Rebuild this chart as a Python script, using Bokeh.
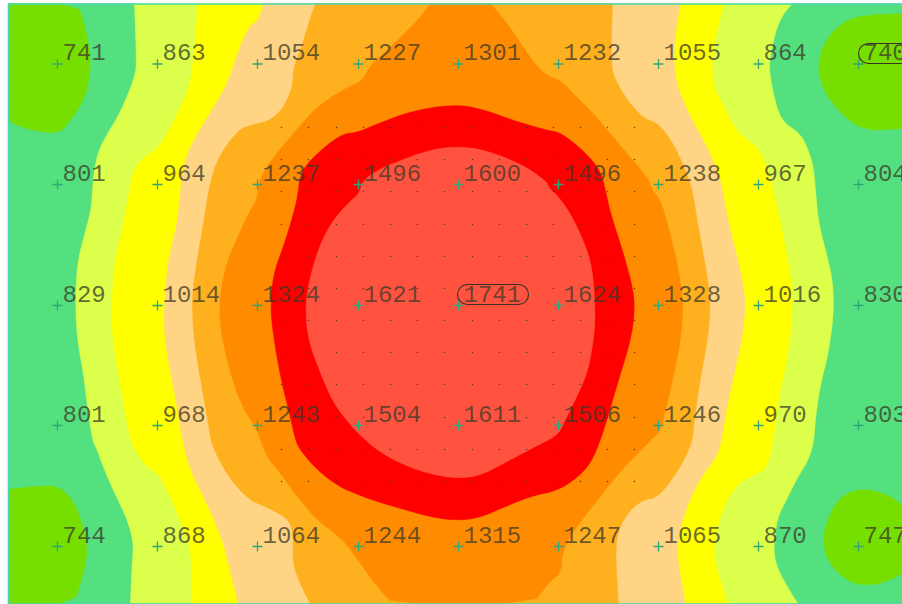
from bokeh.plotting import figure
from bokeh.models import Range1d
from bokeh.core.properties import value
from bokeh.embed import file_html
from bokeh.resources import INLINE

# measuring points of the grid
grid_x = [57, 157, 257, 358, 458, 558, 658, 758, 858]
grid_y = [63.5, 184, 305, 425, 546]
illuminance = [
    [741, 863, 1054, 1227, 1301, 1232, 1055, 864, 740],
    [801, 964, 1237, 1496, 1600, 1496, 1238, 967, 804],
    [829, 1014, 1324, 1621, 1741, 1624, 1328, 1016, 830],
    [801, 968, 1243, 1504, 1611, 1506, 1246, 970, 803],
    [744, 868, 1064, 1244, 1315, 1247, 1065, 870, 747],
]
peak_boxes_left = [457, 858]
peak_boxes_right = [528, 929]
peak_boxes_top = [284, 43]
peak_boxes_bottom = [304, 63]

# fine calculation raster
raster_x = [281, 308, 336, 363, 390, 417, 444, 472, 499, 526, 553, 580, 607, 634]
raster_y = [127, 159, 191, 224, 256, 288, 320, 352, 384, 417, 449, 481]

# iso-illuminance outlines
lime_left = [(134,3),(135,30),(136,60),(135,73),(128,93),(117,117),(107,133),(98,150),(93,173),(91,207),(87,223),(78,257),(76,277),(75,307),(77,340),(83,373),(87,407),(92,440),(97,450),(103,467),(113,490),(125,515),(131,533),(133,547),(131,573),(130,604)]
lime_right = [(792,3),(783,13),(775,30),(769,60),(769,70),(772,90),(780,120),(800,133),(808,150),(813,167),(815,190),(818,223),(827,257),(832,280),(833,303),(832,323),(827,357),(820,383),(815,417),(813,444),(807,461),(797,477),(785,501),(777,517),(773,544),(775,564),(787,587),(798,604)]
yellow_left = [(197,3),(195,40),(193,57),(190,83),(180,107),(167,133),(157,148),(143,157),(133,170),(129,190),(123,223),(115,257),(112,290),(111,323),(115,357),(122,397),(130,440),(137,453),(147,467),(158,473),(167,490),(177,513),(187,537),(191,557),(192,604)]
yellow_right = [(723,3),(715,37),(711,63),(713,87),(722,103),(733,127),(747,140),(758,148),(765,163),(772,187),(780,223),(788,263),(792,290),(791,323),(787,357),(778,397),(775,420),(773,437),(767,467),(755,474),(740,481),(727,497),(717,524),(713,547),(715,564),(727,604)]
tan_left = [(263,3),(258,20),(252,23),(245,33),(237,53),(227,83),(213,107),(197,133),(188,150),(182,170),(180,190),(177,223),(168,257),(165,290),(163,323),(167,357),(175,397),(182,440),(190,470),(200,490),(213,517),(223,543),(228,563),(238,604)]
tan_right = [(680,3),(675,30),(673,63),(677,87),(690,117),(707,147),(718,173),(722,190),(728,223),(737,257),(743,287),(745,303),(742,337),(735,367),(727,403),(723,427),(718,454),(700,477),(687,504),(677,537),(677,561),(685,604)]
amber_left = [(315,3),(308,23),(300,50),(293,67),(292,87),(283,107),(270,120),(253,124),(240,128),(227,143),(215,163),(208,190),(203,223),(197,257),(192,290),(192,323),(197,363),(208,423),(210,440),(220,463),(233,483),(250,500),(258,503),(273,510),(290,520),(293,540),(292,560),(298,580),(310,604)]
amber_right = [(612,3),(610,63),(615,80),(627,100),(643,118),(658,123),(673,143),(685,170),(692,190),(695,210),(702,250),(708,283),(710,307),(707,340),(700,377),(693,424),(692,441),(680,467),(658,497),(643,499),(628,511),(617,531),(615,554),(618,604)]
orange_outline = [(430,3),(417,20),(400,37),(383,53),(370,65),(362,80),(347,87),(330,97),(313,110),(297,128),(287,140),(270,160),(258,182),(257,198),(248,213),(237,237),(227,260),(220,290),(219,323),(227,363),(240,403),(257,430),(260,440),(267,457),(280,473),(290,487),(300,500),(317,520),(340,537),(353,553),(360,563),(377,587),(393,604),(532,604),(550,580),(560,573),(562,553),(567,540),(583,517),(600,496),(617,474),(633,457),(653,437),(660,430),(668,397),(677,357),(682,323),(682,297),(677,263),(667,223),(660,200),(652,190),(647,177),(630,157),(607,130),(593,113),(577,97),(560,80),(550,77),(537,67),(520,43),(507,23),(490,3)]
red_outline = [(453,104),(413,110),(380,122),(357,132),(343,133),(323,147),(300,170),(297,197),(293,213),(285,240),(273,273),(270,303),(272,330),(280,377),(290,417),(295,440),(300,450),(317,470),(340,487),(355,493),(373,500),(407,510),(433,517),(457,520),(480,517),(507,505),(533,495),(557,490),(577,477),(590,463),(600,440),(610,407),(620,373),(630,340),(634,313),(633,290),(623,253),(610,213),(605,190),(600,170),(583,150),(560,132),(547,130),(513,120),(480,108)]
coral_outline = [(453,146),(427,150),(400,160),(380,168),(362,180),(359,193),(347,203),(330,223),(317,250),(307,287),(305,313),(308,340),(320,373),(333,403),(352,427),(360,435),(377,450),(400,463),(427,473),(457,478),(480,475),(503,463),(533,447),(557,435),(563,423),(573,403),(587,373),(593,340),(595,313),(592,267),(583,240),(570,213),(557,195),(548,187),(547,182),(527,167),(500,155),(477,148)]
corner_tl = [(8,3),(77,3),(85,27),(91,63),(85,97),(68,123),(57,133),(33,130),(17,125),(8,120)]
corner_tr = [(905,13),(860,15),(840,23),(823,43),(817,67),(823,90),(840,113),(863,130),(905,128)]
corner_bl = [(8,489),(33,486),(57,485),(73,500),(83,527),(87,550),(83,573),(73,604),(8,604)]
corner_br = [(905,507),(887,494),(863,488),(843,494),(830,511),(822,537),(827,561),(847,581),(867,585),(887,581),(905,571)]

GREEN, LIGHT_GREEN = "#55E080", "#76DF00"
band_colors = ["#DCFF4B", "#FFFF00", "#FFD585", "#FFB01E", "#FF8C00", "#FF0000", "#FF5340"]


def smooth(points, closed=False, rounds=2):
    pts = list(points)
    for _ in range(rounds):
        out = [] if closed else [pts[0]]
        n = len(pts)
        for i in range(n if closed else n - 1):
            a, b = pts[i], pts[(i + 1) % n]
            out.append((0.75 * a[0] + 0.25 * b[0], 0.75 * a[1] + 0.25 * b[1]))
            out.append((0.25 * a[0] + 0.75 * b[0], 0.25 * a[1] + 0.75 * b[1]))
        if not closed:
            out.append(pts[-1])
        pts = out
    return pts


def draw(points, color):
    p.patch([a for a, _ in points], [b for _, b in points], fill_color=color, line_color=color, line_width=0.5)


p = figure(width=902, height=604, output_backend="svg", toolbar_location=None,
           x_range=Range1d(0, 902), y_range=Range1d(604, 0), min_border=0,
           background_fill_color="white", border_fill_color="white")
p.axis.visible = False
p.grid.visible = False
p.outline_line_color = None

p.quad(left=[8], right=[920], top=[3], bottom=[604], fill_color=GREEN, line_color=None)
for blob in (corner_tl, corner_tr, corner_bl, corner_br):
    draw(smooth(blob, rounds=1), LIGHT_GREEN)
for left, right, col in ((lime_left, lime_right, band_colors[0]),
                         (yellow_left, yellow_right, band_colors[1]),
                         (tan_left, tan_right, band_colors[2]),
                         (amber_left, amber_right, band_colors[3])):
    draw(smooth(left) + smooth(right)[::-1], col)
draw(smooth(orange_outline, rounds=1), band_colors[4])
draw(smooth(red_outline, closed=True), band_colors[5])
draw(smooth(coral_outline, closed=True), band_colors[6])

dx = [x for _ in raster_y for x in raster_x]
dy = [y for y in raster_y for _ in raster_x]
p.scatter(dx, dy, marker="circle", size=1.6, fill_color="#3a3320", line_color=None, fill_alpha=0.8)

cx = [x for _ in grid_y for x in grid_x]
cy = [y for y in grid_y for _ in grid_x]
labels = [str(v) for row in illuminance for v in row]
p.scatter(cx, cy, marker="cross", size=10, line_color="#2FA678", line_width=1.3)
p.text([x + 5 for x in cx], [y - 12 for y in cy], text=labels, text_font=value("Liberation Mono"),
       text_font_size="24px", text_color="#3d3a28", text_alpha=0.75,
       text_align="left", text_baseline="alphabetic")

p.quad(left=peak_boxes_left, right=peak_boxes_right, top=peak_boxes_top, bottom=peak_boxes_bottom,
       fill_color=None, line_color="#3d3028", line_width=1.1, border_radius=10)

# frame of the calculation area
p.quad(left=[8], right=[920], top=[3.5], bottom=[603.5], fill_color=None, line_color="#45D8B5", line_width=1.6)

open("out.html", "w").write(file_html(p, INLINE))
